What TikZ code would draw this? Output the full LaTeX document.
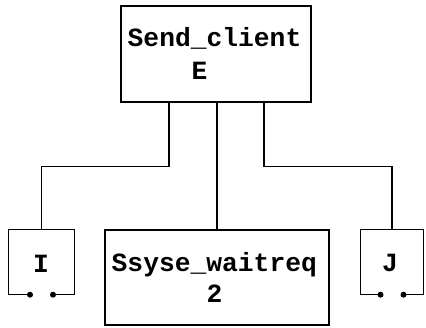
\documentclass[tikz,border=0pt]{standalone}
\usepackage{fontspec}
\setmonofont{Liberation Mono}
\begin{document}
\begin{tikzpicture}[x=1pt,y=-1pt,line width=1.4pt,
  box/.style={draw,rectangle,inner sep=0pt,line width=1.4pt},
  open/.style={rectangle,inner sep=0pt},
  lbl/.style={font=\ttfamily\bfseries\fontsize{26.3}{30}\selectfont,inner sep=0pt,anchor=base west},
  dotc/.style={fill=black,draw=none}]
\useasboundingbox (0,0) rectangle (426,328);
% boxes
\node[box,minimum width=190pt,minimum height=96pt] (top) at (216,54) {};
\node[box,minimum width=224pt,minimum height=95pt] (mid) at (217,277.5) {};
\node[open,minimum width=65pt,minimum height=64pt] (I) at (41.5,262) {};
\node[open,minimum width=62pt,minimum height=64pt] (J) at (392,262) {};
% open boxes with contacts
\draw ([xshift=-11.5pt]I.south) -- (I.south west) -- (I.north west) -- (I.north east) -- (I.south east) -- ([xshift=11.5pt]I.south);
\fill[dotc] ([xshift=-11.5pt]I.south) circle (3pt);
\fill[dotc] ([xshift=11.5pt]I.south) circle (3pt);
\draw ([xshift=-11.5pt]J.south) -- (J.south west) -- (J.north west) -- (J.north east) -- (J.south east) -- ([xshift=11.5pt]J.south);
\fill[dotc] ([xshift=-11.5pt]J.south) circle (3pt);
\fill[dotc] ([xshift=11.5pt]J.south) circle (3pt);
% labels
\node[lbl] (t1) at (127,47) {Send\_client};
\node[lbl] (t2) at (191,80) {E};
\node[lbl] (m1) at (111,272) {Ssyse\_waitreq};
\node[lbl] (m2) at (206,303) {2};
\node[lbl,anchor=base] (il) at (41,273) {I};
\node[lbl,anchor=base] (jl) at (390,272) {J};
% connectors
\draw ([xshift=-47pt]top.south) -- ++(0,64) -| (I.north);
\draw (mid.north |- top.south) -- (mid.north);
\draw ([xshift=48pt]top.south) -- ++(0,64) -| (J.north);
\end{tikzpicture}
\end{document}
